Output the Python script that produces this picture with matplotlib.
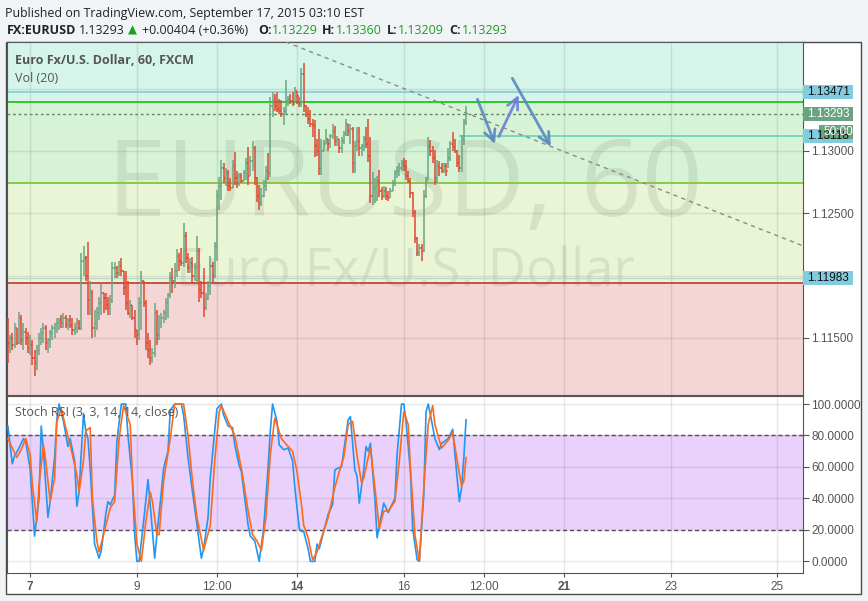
import numpy as np
import matplotlib.pyplot as plt
from matplotlib.patches import Rectangle
from matplotlib.transforms import blended_transform_factory

# hourly bars, hour 0 = Sep 7 00:00 (weekend gap removed)
hours = np.arange(-10, 197)
first_open = 1.1155

highs = [
    1.1166, 1.1152, 1.1154, 1.1162, 1.1158, 1.1171, 1.1168, 1.1162, 1.1158, 1.1155,
    1.1152, 1.1148, 1.1140, 1.1144, 1.1154, 1.1158, 1.1162, 1.1160, 1.1150, 1.1156,
    1.1160, 1.1162, 1.1166, 1.1166, 1.1168, 1.1170, 1.1168, 1.1166, 1.1168, 1.1166,
    1.1162, 1.1166, 1.1164, 1.1218, 1.1224, 1.1216, 1.1227, 1.1196, 1.1188, 1.1172,
    1.1175, 1.1183, 1.1194, 1.1186, 1.1186, 1.1183, 1.1184, 1.1211, 1.1211, 1.1208,
    1.1212, 1.1214, 1.1204, 1.1204, 1.1196, 1.1180, 1.1176, 1.1172, 1.1156, 1.1183,
    1.1204, 1.1196, 1.1180, 1.1154, 1.1148, 1.1142, 1.1178, 1.1172, 1.1168, 1.1170,
    1.1172, 1.1182, 1.1186, 1.1203, 1.1206, 1.1210, 1.1221, 1.1218, 1.1222, 1.1242,
    1.1235, 1.1218, 1.1214, 1.1215, 1.1210, 1.1232, 1.1222, 1.1196, 1.1206, 1.1186,
    1.1196, 1.1216, 1.1211, 1.1227, 1.1269, 1.1279, 1.1293, 1.1290, 1.1286, 1.1285,
    1.1278, 1.1293, 1.1299, 1.1284, 1.1282, 1.1282, 1.1285, 1.1294, 1.1303, 1.1296,
    1.1308, 1.1304, 1.1279, 1.1273, 1.1270, 1.1277, 1.1288, 1.1298, 1.1343, 1.1347,
    1.1346, 1.1347, 1.1342, 1.1341, 1.1335, 1.1357, 1.1344, 1.1346, 1.1347, 1.1351,
    1.1348, 1.1343, 1.1367, 1.1371, 1.1337, 1.1335, 1.1333, 1.1326, 1.1325, 1.1310,
    1.1318, 1.1310, 1.1309, 1.1318, 1.1310, 1.1314, 1.1322, 1.1320, 1.1312, 1.1310,
    1.1311, 1.1316, 1.1326, 1.1322, 1.1322, 1.1319, 1.1308, 1.1319, 1.1319, 1.1306,
    1.1312, 1.1319, 1.1326, 1.1311, 1.1283, 1.1278, 1.1280, 1.1285, 1.1271, 1.1272,
    1.1271, 1.1268, 1.1270, 1.1277, 1.1285, 1.1288, 1.1290, 1.1293, 1.1294, 1.1293,
    1.1284, 1.1278, 1.1267, 1.1253, 1.1231, 1.1225, 1.1225, 1.1269, 1.1279, 1.1311,
    1.1309, 1.1304, 1.1301, 1.1293, 1.1292, 1.1290, 1.1290, 1.1290, 1.1302, 1.1308,
    1.1315, 1.1310, 1.1301, 1.1297, 1.1313, 1.1326, 1.13360,
]
lows = [
    1.1130, 1.1138, 1.1140, 1.1142, 1.1144, 1.1145, 1.1144, 1.1140, 1.1144, 1.1138,
    1.1136, 1.1128, 1.1119, 1.1124, 1.1136, 1.1144, 1.1146, 1.1140, 1.1138, 1.1142,
    1.1148, 1.1150, 1.1154, 1.1156, 1.1158, 1.1158, 1.1158, 1.1156, 1.1158, 1.1152,
    1.1152, 1.1154, 1.1156, 1.1156, 1.1200, 1.1196, 1.1168, 1.1168, 1.1150, 1.1151,
    1.1156, 1.1164, 1.1168, 1.1170, 1.1172, 1.1168, 1.1168, 1.1178, 1.1198, 1.1198,
    1.1200, 1.1200, 1.1184, 1.1172, 1.1168, 1.1166, 1.1164, 1.1150, 1.1144, 1.1148,
    1.1156, 1.1175, 1.1140, 1.1134, 1.1128, 1.1130, 1.1135, 1.1144, 1.1148, 1.1158,
    1.1162, 1.1164, 1.1166, 1.1182, 1.1186, 1.1190, 1.1199, 1.1204, 1.1208, 1.1207,
    1.1210, 1.1202, 1.1202, 1.1194, 1.1196, 1.1194, 1.1179, 1.1182, 1.1167, 1.1172,
    1.1180, 1.1184, 1.1195, 1.1198, 1.1212, 1.1253, 1.1261, 1.1274, 1.1272, 1.1268,
    1.1268, 1.1270, 1.1273, 1.1270, 1.1272, 1.1274, 1.1276, 1.1277, 1.1273, 1.1280,
    1.1284, 1.1273, 1.1259, 1.1253, 1.1256, 1.1263, 1.1268, 1.1277, 1.1279, 1.1327,
    1.1332, 1.1331, 1.1330, 1.1327, 1.1321, 1.1330, 1.1336, 1.1338, 1.1336, 1.1339,
    1.1338, 1.1335, 1.1335, 1.1331, 1.1327, 1.1322, 1.1319, 1.1311, 1.1295, 1.1296,
    1.1281, 1.1281, 1.1300, 1.1306, 1.1300, 1.1302, 1.1310, 1.1304, 1.1304, 1.1298,
    1.1298, 1.1306, 1.1312, 1.1312, 1.1306, 1.1282, 1.1282, 1.1300, 1.1296, 1.1296,
    1.1300, 1.1302, 1.1291, 1.1258, 1.1257, 1.1258, 1.1260, 1.1263, 1.1261, 1.1262,
    1.1261, 1.1260, 1.1262, 1.1268, 1.1272, 1.1278, 1.1280, 1.1284, 1.1284, 1.1277,
    1.1274, 1.1262, 1.1247, 1.1226, 1.1216, 1.1216, 1.1212, 1.1219, 1.1262, 1.1277,
    1.1296, 1.1290, 1.1273, 1.1274, 1.1280, 1.1282, 1.1282, 1.1280, 1.1286, 1.1292,
    1.1300, 1.1298, 1.1287, 1.1283, 1.1283, 1.1305, 1.13209,
]
closes = [
    1.1146, 1.1150, 1.1144, 1.1158, 1.1146, 1.1166, 1.1148, 1.1155, 1.1150, 1.1142,
    1.1144, 1.1134, 1.1130, 1.1140, 1.1150, 1.1154, 1.1158, 1.1146, 1.1148, 1.1154,
    1.1158, 1.1160, 1.1162, 1.1164, 1.1162, 1.1166, 1.1160, 1.1164, 1.1160, 1.1156,
    1.1158, 1.1162, 1.1158, 1.1212, 1.1214, 1.1200, 1.1180, 1.1186, 1.1158, 1.1162,
    1.1170, 1.1178, 1.1186, 1.1182, 1.1176, 1.1174, 1.1180, 1.1206, 1.1206, 1.1202,
    1.1208, 1.1204, 1.1190, 1.1178, 1.1170, 1.1176, 1.1166, 1.1156, 1.1152, 1.1178,
    1.1196, 1.1178, 1.1146, 1.1140, 1.1134, 1.1138, 1.1170, 1.1152, 1.1162, 1.1166,
    1.1170, 1.1178, 1.1184, 1.1198, 1.1196, 1.1204, 1.1216, 1.1212, 1.1210, 1.1232,
    1.1214, 1.1206, 1.1210, 1.1200, 1.1206, 1.1220, 1.1188, 1.1186, 1.1174, 1.1182,
    1.1192, 1.1208, 1.1200, 1.1224, 1.1264, 1.1272, 1.1286, 1.1278, 1.1282, 1.1272,
    1.1270, 1.1288, 1.1278, 1.1274, 1.1280, 1.1276, 1.1282, 1.1290, 1.1280, 1.1292,
    1.1302, 1.1278, 1.1264, 1.1258, 1.1264, 1.1272, 1.1284, 1.1282, 1.1336, 1.1340,
    1.1336, 1.1334, 1.1332, 1.1330, 1.1332, 1.1340, 1.1342, 1.1340, 1.1338, 1.1348,
    1.1344, 1.1338, 1.1362, 1.1336, 1.1330, 1.1326, 1.1322, 1.1320, 1.1304, 1.1300,
    1.1286, 1.1300, 1.1306, 1.1310, 1.1306, 1.1312, 1.1316, 1.1308, 1.1310, 1.1302,
    1.1308, 1.1314, 1.1322, 1.1316, 1.1318, 1.1290, 1.1304, 1.1308, 1.1302, 1.1304,
    1.1310, 1.1306, 1.1296, 1.1264, 1.1270, 1.1272, 1.1276, 1.1268, 1.1264, 1.1268,
    1.1264, 1.1262, 1.1268, 1.1274, 1.1282, 1.1284, 1.1286, 1.1290, 1.1288, 1.1280,
    1.1276, 1.1266, 1.1250, 1.1230, 1.1218, 1.1222, 1.1220, 1.1264, 1.1276, 1.1304,
    1.1300, 1.1294, 1.1278, 1.1288, 1.1286, 1.1284, 1.1288, 1.1284, 1.1294, 1.1306,
    1.1303, 1.1300, 1.1290, 1.1286, 1.1310, 1.1323, 1.13293,
]

# Stoch RSI turning points (hour, value)
k_hours = [-10, -8, -7, -5, -3, -2, 0, 2, 4, 5, 6, 8, 9, 11, 12, 13, 15, 17, 18, 20,
           21, 22, 24, 25, 26, 27, 29, 31, 32, 34, 35, 36, 38, 39, 41, 43, 44, 46, 47, 48,
           49, 51, 53, 54, 56, 57, 59, 60, 62, 63, 65, 68, 69, 71, 73, 74, 77, 78, 80, 81,
           83, 84, 86, 87, 89, 91, 92, 94, 95, 98, 99, 101, 103, 105, 107, 108, 109, 111, 112, 114,
           116, 118, 119, 121, 122, 123, 125, 126, 128, 129, 130, 132, 134, 136, 137, 138, 140, 141, 143, 144,
           146, 147, 148, 150, 151, 152, 153, 155, 156, 159, 160, 161, 164, 165, 167, 168, 169, 171, 172, 174,
           175, 177, 178, 179, 180, 182, 184, 185, 188, 190, 191, 193, 194, 195, 196]
k_vals = [86, 62, 67, 72, 78, 76, 59, 16, 40, 86, 70, 28, 38, 66, 90, 100, 89, 73, 78, 64,
          35, 44, 94, 83, 78, 59, 11, 2, 7, 30, 38, 36, 42, 76, 100, 100, 80, 51, 17, 0,
          0, 25, 52, 36, 2, 17, 44, 59, 70, 96, 100, 100, 93, 66, 44, 34, 2, 8, 28, 53,
          83, 97, 100, 93, 86, 85, 74, 61, 57, 23, 16, 13, 0, 21, 60, 83, 100, 89, 74, 71,
          72, 64, 47, 21, 19, 19, 8, 0, 0, 11, 8, 19, 30, 36, 58, 59, 60, 70, 90, 92,
          58, 54, 37, 58, 73, 70, 75, 40, 15, 37, 34, 31, 40, 68, 100, 100, 89, 57, 21, 1,
          0, 42, 95, 100, 93, 78, 71, 75, 78, 84, 68, 38, 47, 66, 90]
d_hours = [-10, -9, -6, -4, -2, 0, 1, 3, 4, 6, 7, 9, 11, 12, 14, 16, 18, 21, 22, 24,
           25, 27, 28, 30, 31, 33, 36, 38, 40, 42, 45, 46, 48, 50, 52, 54, 55, 57, 58, 60,
           63, 65, 69, 71, 73, 75, 78, 81, 83, 85, 86, 89, 92, 95, 98, 100, 102, 104, 106, 108,
           110, 113, 116, 118, 120, 122, 123, 125, 127, 129, 131, 134, 137, 139, 141, 143, 145, 147, 149, 150,
           152, 153, 155, 157, 159, 161, 164, 166, 168, 170, 171, 173, 175, 177, 179, 181, 182, 185, 188, 190,
           192, 194, 195, 196]
d_vals = [78, 75, 66, 71, 78, 68, 49, 25, 49, 74, 64, 38, 53, 89, 97, 85, 74, 55, 44, 64,
          83, 85, 40, 13, 6, 17, 34, 38, 78, 99, 87, 51, 11, 0, 25, 44, 38, 17, 17, 51,
          78, 100, 100, 80, 51, 28, 7, 23, 64, 95, 99, 89, 80, 59, 32, 17, 13, 7, 28, 68,
          91, 78, 73, 70, 57, 36, 23, 15, 1, 6, 15, 28, 47, 57, 66, 87, 89, 67, 50, 53,
          66, 72, 47, 21, 32, 32, 38, 64, 95, 87, 59, 17, 0, 47, 87, 99, 87, 72, 77, 82,
          64, 48, 51, 66]

# horizontal levels
level_top = 1.13471
level_green = 1.13391
last_price = 1.13293
level_mid = 1.13118
level_yellow = 1.1274
level_pale = 1.11983
level_red = 1.11938

# trend line and drawn arrows (hour, price)
trend_x = [115, 347.7]
trend_y = [1.13875, 1.12237]
arrows = [
    ((201.1, 1.13415), (209.0, 1.13056), "#5a88c0"),
    ((210.7, 1.13115), (219.7, 1.13450), "#6f7fd6"),
    ((216.8, 1.13584), (234.1, 1.13035), "#5a88c0"),
]

tick_hours = [0, 48, 84, 120, 168, 204, 240, 288, 336]
tick_labels = ["7", "9", "12:00", "14", "16", "12:00", "21", "23", "25"]
bold_ticks = {"7", "14", "21"}

UP = "#6ba583"
DOWN = "#e0472f"
TXT = "#555555"
W, H = 868, 601

plt.rcParams["font.family"] = ["Open Sans", "DejaVu Sans"]

fig = plt.figure(figsize=(W / 100, H / 100), dpi=100)
fig.patch.set_facecolor("#f1f4f7")


def fx(px):
    return px / W


def fy(py):
    return 1 - py / H


fig.add_artist(Rectangle((fx(6), fy(594)), (861 - 6) / W, (594 - 42) / H,
                         transform=fig.transFigure, facecolor="white",
                         edgecolor="#4a4a4a", lw=1, zorder=0))

# header
fig.text(fx(5), fy(13), "Published on TradingView.com, September 17, 2015 03:10 EST",
         fontsize=8.9, color="#222222", va="center")
green = "#1e9e1e"
hdr = [
    (7, "FX:EURUSD", "#222222", "bold"),
    (79, "1.13293", "#222222", "normal"),
    (142, "+0.00404 (+0.36%)", "#222222", "normal"),
    (258, "O:", "#222222", "bold"),
    (272, "1.13229", green, "normal"),
    (322, "H:", "#222222", "bold"),
    (336, "1.13360", green, "normal"),
    (387, "L:", "#222222", "bold"),
    (398, "1.13209", green, "normal"),
    (449, "C:", "#222222", "bold"),
    (462, "1.13293", green, "normal"),
]
for x, s, c, wgt in hdr:
    fig.text(fx(x), fy(30), s, fontsize=9, color=c, fontweight=wgt, va="center")
fig.text(fx(127.5), fy(30), "\u25b2", fontsize=8.5, color=green, va="center",
         family="DejaVu Sans")

# price pane
ax = fig.add_axes([fx(7), fy(395), (803 - 7) / W, (395 - 42) / H])
ax.set_facecolor("white")
ax.set_xlim(-10.4, 347.5)
ax.set_ylim(1.11041, 1.13875)

ax.axhspan(level_green, 1.13875, color="#d5f5ea", zorder=0.2, lw=0)
ax.axhspan(level_yellow, level_green, color="#d6f3d6", zorder=0.2, lw=0)
ax.axhspan(level_red, level_yellow, color="#eaf5d6", zorder=0.2, lw=0)
ax.axhspan(1.11041, level_red, color="#f4d6d6", zorder=0.2, lw=0)

ax.text(0.5, 0.586, "EURUSD, 60", transform=ax.transAxes, ha="center", va="center",
        fontsize=77, color="#6f826f", alpha=0.16, zorder=0.6)
ax.text(0.5, 0.346, "Euro Fx/U.S. Dollar", transform=ax.transAxes, ha="center",
        va="center", fontsize=38, color="#6f826f", alpha=0.16, zorder=0.6)

ax.axhline(level_top, color="#7ccccc", lw=1.1, zorder=2)
ax.axhline(level_green, color="#22c322", lw=1.3, zorder=2)
ax.axhline(last_price, color="#5e8a6c", lw=1, ls=(0, (2, 2)), zorder=2)
ax.hlines(level_mid, 192.7, 347.5, color="#5fd0b8", lw=1.1, zorder=2)
ax.axhline(level_yellow, color="#86c440", lw=1.3, zorder=2)
ax.axhline(level_pale, color="#bcd9cf", lw=1.0, zorder=2)
ax.axhline(level_red, color="#c0392b", lw=1.2, zorder=2)

opens = np.concatenate([[first_open], closes[:-1]])
cl = np.array(closes)
cols = np.where(cl >= opens, UP, DOWN)
ax.vlines(hours, lows, highs, colors=cols, lw=1.1, zorder=3)
ax.hlines(opens, hours - 0.5, hours, colors=cols, lw=1.1, zorder=3)
ax.hlines(cl, hours, hours + 0.5, colors=cols, lw=1.1, zorder=3)

ax.plot(trend_x, trend_y, color="#8a8a8a", lw=1, ls=(0, (3, 3)), zorder=3)
for start, end, c in arrows:
    ax.annotate("", xy=end, xytext=start,
                arrowprops=dict(arrowstyle="->,head_length=0.8,head_width=0.4",
                                color=c, lw=2, alpha=0.9, shrinkA=0, shrinkB=0),
                zorder=4)

ax.text(8 / 796, (395 - 60) / 353, "Euro Fx/U.S. Dollar, 60, FXCM", transform=ax.transAxes,
        fontsize=9, color=TXT, fontweight="bold", va="center")
ax.text(8 / 796, (395 - 78) / 353, "Vol (20)", transform=ax.transAxes,
        fontsize=9, color=TXT, va="center")

ax.set_xticks(tick_hours)
ax.tick_params(axis="x", bottom=False, labelbottom=False)
ax.yaxis.tick_right()
# 1.12000 and 1.13500 sit under the level labels, so only their ticks show
ax.set_yticks([1.115, 1.12, 1.125, 1.13, 1.135])
ax.set_yticklabels(["1.11500", "", "1.12500", "1.13000", ""],
                   family="Liberation Sans")
ax.tick_params(axis="y", length=4, color=TXT, labelsize=8.5, labelcolor=TXT, pad=2)
ax.grid(True, color="black", alpha=0.09, lw=1)
ax.set_axisbelow(True)
for s in ax.spines.values():
    s.set_color("#555555")

tr = blended_transform_factory(ax.transAxes, ax.transData)


def price_label(price, text, fc, tc, x0=803, x1=853):
    h = 14 * (1.13875 - 1.11041) / 353
    ax.add_patch(Rectangle(((x0 - 7) / 796, price - h / 2), (x1 - x0) / 796, h,
                           transform=tr, facecolor=fc, edgecolor="none",
                           clip_on=False, zorder=10))
    ax.text((x0 - 7 + 4) / 796, price, text, transform=tr, fontsize=8.5, color=tc,
            va="center", ha="left", family="Liberation Sans", clip_on=False, zorder=11)


BLUE_BOX = "#82cce0"
GREEN_BOX = "#6aa382"
price_label(level_top, "1.13471", BLUE_BOX, "#111111")
price_label(level_mid, "1.13118", BLUE_BOX, "#111111")
price_label(last_price, "1.13293", GREEN_BOX, "white")
price_label(level_pale, "1.11983", BLUE_BOX, "#111111")
price_label(1.13150, "50:00", GREEN_BOX, "white", x0=819)

# stoch RSI pane
ax2 = fig.add_axes([fx(7), fy(573), (803 - 7) / W, (573 - 396) / H], sharex=ax)
ax2.set_facecolor("white")
ax2.set_ylim(-7.4, 105.1)
ax2.axhspan(20, 80, color="#e9d1fb", zorder=0.2, lw=0)
ax2.axhline(80, color="#5a4a5a", lw=1, ls=(0, (3, 2)), zorder=2)
ax2.axhline(20, color="#5a4a5a", lw=1, ls=(0, (3, 2)), zorder=2)
ax2.plot(k_hours, k_vals, color="#2196f3", lw=1.2, zorder=3)
ax2.plot(d_hours, d_vals, color="#ff6a1a", lw=1.2, zorder=3)
ax2.text(8 / 796, (573 - 412) / 177, "Stoch RSI (3, 3, 14, 14, close)",
         transform=ax2.transAxes, fontsize=9, color=TXT, va="center")

ax2.yaxis.tick_right()
ax2.set_yticks([0, 20, 40, 60, 80, 100])
ax2.set_yticklabels(["0.0000", "20.0000", "40.0000", "60.0000", "80.0000", "100.0000"],
                    family="Liberation Sans")
ax2.tick_params(axis="y", length=4, color=TXT, labelsize=8.5, labelcolor=TXT, pad=2)
ax2.set_xticks(tick_hours)
ax2.set_xticklabels(tick_labels, family="Liberation Sans")
ax2.tick_params(axis="x", length=3, color=TXT, labelsize=8.5, labelcolor=TXT, pad=3)
for lab in ax2.get_xticklabels():
    if lab.get_text() in bold_ticks:
        lab.set_fontweight("bold")
ax2.grid(True, color="black", alpha=0.09, lw=1)
ax2.set_axisbelow(True)
for s in ax2.spines.values():
    s.set_color("#555555")
ax.set_xlim(-10.4, 347.5)

fig.savefig("out.png", dpi=100, facecolor=fig.get_facecolor())
